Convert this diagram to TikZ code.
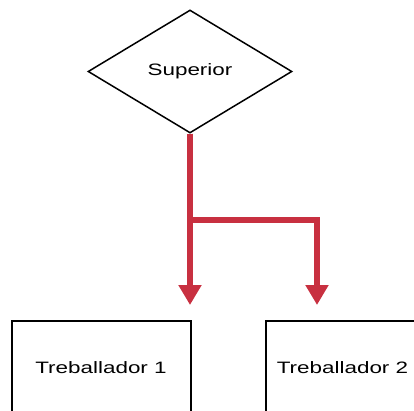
\documentclass[tikz,border=0pt]{standalone}
\usepackage{fontspec}
\setmainfont{Liberation Sans}
\newfontfamily\widefont[FakeStretch=1.36]{Liberation Sans}
\usetikzlibrary{shapes.geometric,arrows.meta}
\definecolor{arrowred}{RGB}{200,48,64}
\tikzset{
  decision/.style={diamond, draw=black, line width=1.5pt, inner sep=0pt,
    minimum width=204pt, minimum height=123pt, font=\widefont\fontsize{16.5}{18}\selectfont},
  workerbox/.style={rectangle, draw=black, line width=2pt, minimum width=179pt, minimum height=100pt},
  boxtext/.style={anchor=base, inner sep=0pt, font=\widefont\fontsize{16.5}{18}\selectfont},
  flow/.style={draw=arrowred, line width=6pt, -{Triangle[width=22pt,length=20pt]}}
}
\begin{document}
\begin{tikzpicture}[x=1pt,y=-1pt]
\useasboundingbox (0,0) rectangle (414,411);
\clip (0,0) rectangle (414,411);
\node[decision] (sup) at (190,71.5) {Superior};
\node[workerbox] (w1) at (101.5,371) {};
\node[workerbox] (w2) at (355.5,371) {};
\node[boxtext] (t1) at (101,373.3) {Treballador 1};
\node[boxtext] (t2) at (342.5,373.3) {Treballador 2};
\coordinate (a1) at (190,305);
\coordinate (k) at (317,220);
\coordinate (a2) at (317,305);
\draw[flow] (sup.south) -- (a1);
\draw[flow] (sup.south) |- (k) -- (a2);
\end{tikzpicture}
\end{document}
